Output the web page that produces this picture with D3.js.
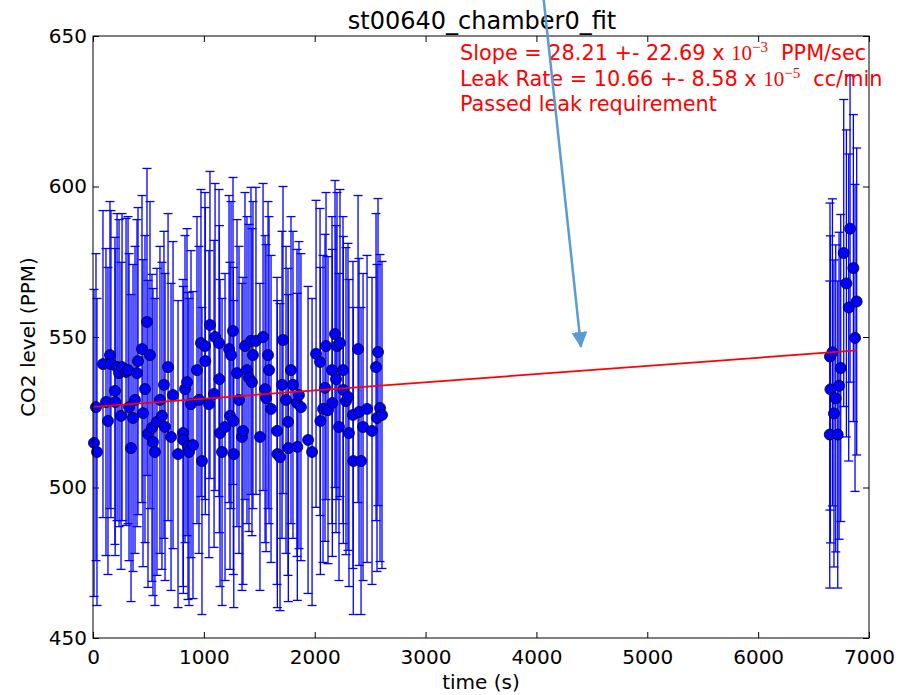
<!DOCTYPE html>
<html>
<head>
<meta charset="utf-8">
<script src="https://cdn.jsdelivr.net/npm/d3@7"></script>
<style>
  body { margin: 0; background: #fff; }
  text { font-family: "DejaVu Sans", sans-serif; }
</style>
</head>
<body>
<div id="chart"></div>
<script>
// Measured points: time (s) and CO2 level (PPM)
const times = [9,27,36,90,117,135,153,162,198,200,217,235,253,262,298,316,325,343,361,379,397,406,442,451,469,487,496,514,532,541,559,577,604,622,640,650,677,704,722,767,812,815,830,848,857,866,884,902,938,956,974,983,1010,1013,1046,1055,1092,1101,1137,1140,1146,1164,1191,1227,1236,1245,1263,1266,1270,1299,1317,1344,1353,1371,1389,1407,1425,1434,1443,1470,1506,1534,1552,1561,1579,1588,1606,1660,1663,1687,1705,1714,1741,1759,1762,1786,1804,1840,1843,1858,1876,1940,1976,2012,2048,2051,2075,2093,2102,2120,2156,2159,2183,2192,2201,2219,2228,2255,2258,2282,2300,2309,2345,2348,2391,2400,2418,2436,2472,2517,2553,2562,2571,2589,2607,
  6646,6648,6652,6670,6684,6700,6718,6730,6745,6772,6796,6817,6829,6859,6874,6889];
const levels = [514.8,526.7,511.8,541.0,528.4,522.1,544.0,541.0,532.1,528.4,540.0,538.0,523.8,540.0,538.4,539.0,526.7,513.1,523.1,529.1,538.0,542.0,546.0,524.7,532.7,555.0,517.8,544.0,519.8,515.1,511.8,521.8,529.1,523.8,534.1,520.1,540.0,516.8,530.7,511.1,518.1,515.8,532.7,535.0,513.8,511.8,527.7,514.1,539.0,529.1,548.0,508.8,547.0,542.0,527.7,554.0,531.1,550.0,548.0,536.0,518.1,511.8,520.1,546.0,523.8,544.0,552.0,522.1,511.1,538.0,529.1,516.8,518.8,547.0,539.0,536.4,548.7,535.0,544.0,548.7,516.8,550.0,532.7,529.7,544.0,539.0,526.1,518.8,511.1,510.1,534.1,549.0,529.1,521.8,513.1,539.0,534.1,528.1,513.5,530.7,526.7,515.8,511.8,544.4,541.7,522.1,526.1,533.1,547.0,525.7,539.0,528.1,551.0,536.0,547.0,520.1,548.0,539.0,532.4,528.7,530.1,518.1,524.1,508.8,546.0,525.1,508.8,520.1,526.1,518.8,540.0,523.1,545.0,526.4,524.1,
  517.6,543.5,532.6,544.9,524.6,529.6,517.6,533.8,539.7,577.9,567.8,559.8,586.0,572.9,549.7,561.8];
const errPPM = 51;

// Linear fit (PPM at t=0, PPM per second)
const fitIntercept = 526.8;
const fitSlope = 0.00272;

const xTicks = [0, 1000, 2000, 3000, 4000, 5000, 6000, 7000];
const yTicks = [450, 500, 550, 600, 650];

const noteLines = [
  {text: "Slope = 28.21 +- 22.69 x ", exp: "\u22123", unit: "PPM/sec"},
  {text: "Leak Rate = 10.66 +- 8.58 x ", exp: "\u22125", unit: "cc/min"},
  {text: "Passed leak requirement"}
];

// blue arrow pasted over the chart, in data units
const arrowFrom = [4060, 664];
const arrowTo = [4402, 546.7];

const data = times.map((t, i) => ({t: t, v: levels[i]}));

// Chart dimensions
const margin = {top: 36, right: 41, bottom: 57, left: 93};
const width = 910 - margin.left - margin.right;
const height = 695 - margin.top - margin.bottom;

const root = d3.select("#chart")
    .append("svg")
    .attr("width", width + margin.left + margin.right)
    .attr("height", height + margin.top + margin.bottom)
    .style("display", "block");

root.append("rect")
    .attr("width", width + margin.left + margin.right)
    .attr("height", height + margin.top + margin.bottom)
    .attr("fill", "#fff");

const svg = root.append("g")
    .attr("transform", "translate(" + margin.left + "," + margin.top + ")");

const x = d3.scaleLinear().domain([0, 7000]).range([0, width]);
const y = d3.scaleLinear().domain([450, 650]).range([height, 0]);

// Axes (ticks point inward on all four sides)
function styleAxis(g) {
    g.select(".domain").remove();
    g.selectAll(".tick line").attr("stroke", "#000").attr("stroke-width", 1);
    g.selectAll(".tick text")
        .attr("fill", "#000")
        .style("font-family", "DejaVu Sans")
        .style("font-size", "20px");
}

svg.append("g")
    .attr("transform", "translate(0," + height + ")")
    .call(d3.axisBottom(x).tickValues(xTicks).tickFormat(d3.format("d")).tickSize(-6).tickPadding(12))
    .call(styleAxis);

svg.append("g")
    .call(d3.axisTop(x).tickValues(xTicks).tickSize(-6).tickFormat(""))
    .call(styleAxis);

svg.append("g")
    .call(d3.axisLeft(y).tickValues(yTicks).tickSize(-6).tickPadding(6))
    .call(styleAxis);

svg.append("g")
    .attr("transform", "translate(" + width + ",0)")
    .call(d3.axisRight(y).tickValues(yTicks).tickSize(-6).tickFormat(""))
    .call(styleAxis);

// Error bars
const bars = svg.append("g")
    .attr("stroke", "#0000ff")
    .attr("stroke-width", 1.3);

bars.selectAll(".err")
    .data(data)
    .enter().append("line")
    .attr("x1", d => x(d.t))
    .attr("x2", d => x(d.t))
    .attr("y1", d => y(d.v - errPPM))
    .attr("y2", d => y(d.v + errPPM));

["top", "bottom"].forEach(side => {
    bars.selectAll(".cap-" + side)
        .data(data)
        .enter().append("line")
        .attr("x1", d => x(d.t) - 4.5)
        .attr("x2", d => x(d.t) + 4.5)
        .attr("y1", d => y(side === "top" ? d.v + errPPM : d.v - errPPM))
        .attr("y2", d => y(side === "top" ? d.v + errPPM : d.v - errPPM));
});

// Markers
svg.selectAll(".dot")
    .data(data)
    .enter().append("circle")
    .attr("cx", d => x(d.t))
    .attr("cy", d => y(d.v))
    .attr("r", 5.5)
    .attr("fill", "#0000ff")
    .attr("stroke", "#000")
    .attr("stroke-width", 0.8);

// Fit line
const tMax = d3.max(times);
svg.append("path")
    .datum([0, tMax])
    .attr("fill", "none")
    .attr("stroke", "#ff0000")
    .attr("stroke-width", 1.7)
    .attr("d", d3.line().x(t => x(t)).y(t => y(fitIntercept + fitSlope * t)));

// Frame
svg.append("rect")
    .attr("width", width)
    .attr("height", height)
    .attr("fill", "none")
    .attr("stroke", "#000")
    .attr("stroke-width", 1);

// Title and axis labels
svg.append("text")
    .attr("x", width / 2 + 1)
    .attr("y", -7)
    .attr("text-anchor", "middle")
    .style("font-size", "24px")
    .text("st00640_chamber0_fit");

svg.append("text")
    .attr("x", width / 2)
    .attr("y", height + 51)
    .attr("text-anchor", "middle")
    .style("font-size", "20px")
    .text("time (s)");

svg.append("text")
    .attr("transform", "translate(" + (35 - margin.left) + "," + (height / 2) + ") rotate(-90)")
    .attr("text-anchor", "middle")
    .style("font-size", "20px")
    .text("CO2 level (PPM)");

// Fit results
const note = svg.append("g")
    .attr("fill", "#ff0000")
    .style("font-size", "20.8px");

noteLines.forEach((line, i) => {
    const t = note.append("text")
        .attr("x", 460 - margin.left)
        .attr("y", 24 + i * 25.5);
    t.append("tspan").text(line.text);
    if (line.exp) {
        t.append("tspan")
            .style("font-family", "Liberation Serif")
            .style("font-size", "21px")
            .text("10");
        t.append("tspan")
            .attr("dy", -8)
            .style("font-family", "Liberation Serif")
            .style("font-size", "15px")
            .text(line.exp);
        t.append("tspan")
            .attr("dx", 13)
            .attr("dy", 8)
            .text(line.unit);
    }
});

// Arrow annotation
root.append("defs").append("marker")
    .attr("id", "head")
    .attr("markerUnits", "userSpaceOnUse")
    .attr("viewBox", "0 0 16 16")
    .attr("refX", 15)
    .attr("refY", 8)
    .attr("markerWidth", 16)
    .attr("markerHeight", 16)
    .attr("orient", "auto")
    .append("path")
    .attr("d", "M0,0 L16,8 L0,16 Z")
    .attr("fill", "#5b9bd5");

svg.append("line")
    .attr("x1", x(arrowFrom[0]))
    .attr("y1", y(arrowFrom[1]))
    .attr("x2", x(arrowTo[0]))
    .attr("y2", y(arrowTo[1]))
    .attr("stroke", "#5b9bd5")
    .attr("stroke-width", 2.5)
    .attr("marker-end", "url(#head)");
</script>
</body>
</html>
